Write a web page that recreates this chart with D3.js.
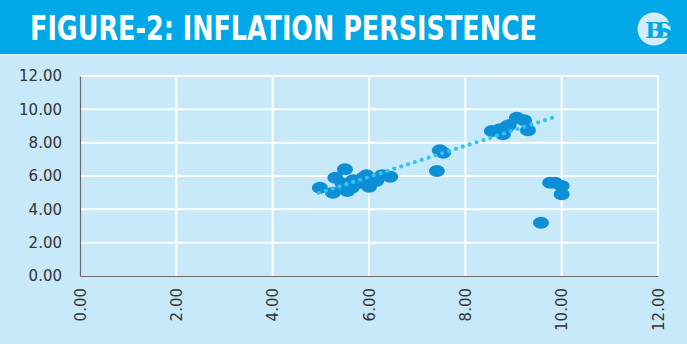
<!DOCTYPE html>
<html>
<head>
<meta charset="utf-8">
<script src="https://cdn.jsdelivr.net/npm/d3@7/dist/d3.min.js"></script>
<style>
  html, body { margin: 0; padding: 0; background: #c7e9fa; }
  svg { display: block; }
</style>
</head>
<body>
<svg id="chart" width="687" height="344"></svg>
<script>
// Scatter of inflation (x) vs. lagged inflation (y), in percent
const xValues = [4.98, 5.25, 5.3, 5.5, 5.67, 5.64, 5.88, 5.95, 6.0, 6.08, 6.27, 6.44,
                 5.45, 5.75, 6.15, 5.55,
                 7.47, 7.54, 7.41,
                 8.55, 8.72, 8.78, 8.86, 8.9, 9.07, 9.22, 9.3,
                 9.76, 9.86, 10.0, 10.0, 9.57];
const yValues = [5.3, 5.0, 5.9, 6.4, 5.75, 5.3, 5.9, 6.05, 5.35, 5.75, 6.05, 5.95,
                 5.55, 5.55, 5.7, 5.1,
                 7.55, 7.4, 6.3,
                 8.7, 8.8, 8.5, 8.95, 9.05, 9.5, 9.35, 8.75,
                 5.6, 5.6, 5.4, 4.9, 3.2];

// Linear trendline end points
const trendX = [4.96, 9.86];
const trendY = [4.98, 9.54];

const xTicks = [0, 2, 4, 6, 8, 10, 12];
const yTicks = [0, 2, 4, 6, 8, 10, 12];
const titleText = "FIGURE-2: INFLATION PERSISTENCE";

const svg = d3.select("#chart");
const W = 687, H = 344;

svg.append("rect").attr("width", W).attr("height", H).attr("fill", "#c7e9fa");

// Header band
svg.append("rect").attr("x", 0).attr("y", 0).attr("width", W).attr("height", 54)
  .attr("fill", "#00a8e7");
svg.append("rect").attr("x", 0).attr("y", 54).attr("width", W).attr("height", 1.5)
  .attr("fill", "#dcf2fc");
svg.append("text")
  .attr("x", 30).attr("y", 40)
  .attr("fill", "#ffffff")
  .attr("font-family", "'DejaVu Sans Condensed', 'DejaVu Sans', sans-serif")
  .attr("font-stretch", "condensed")
  .attr("font-weight", "bold")
  .attr("font-size", 34)
  .attr("textLength", 507)
  .attr("lengthAdjust", "spacingAndGlyphs")
  .text(titleText);

// Logo badge
const logo = svg.append("g").attr("transform", "translate(654,29)");
logo.append("circle").attr("r", 16.5).attr("fill", "#d2eefb");
logo.append("text").attr("x", 0).attr("y", 8.5)
  .attr("text-anchor", "middle")
  .attr("font-family", "'DejaVu Serif', serif").attr("font-weight", "bold")
  .attr("font-size", 23).attr("letter-spacing", -9)
  .attr("fill", "#00a8e7").text("BS");

// Plot area
const x = d3.scaleLinear().domain([0, 12]).range([80, 658]);
const y = d3.scaleLinear().domain([0, 12]).range([276, 76]);

const grid = svg.append("g");
grid.selectAll("line.v").data(xTicks.filter(d => d > 0)).join("line")
  .attr("x1", d => x(d)).attr("x2", d => x(d))
  .attr("y1", y(0)).attr("y2", y(12))
  .attr("stroke", "#ffffff").attr("stroke-width", 2);
grid.selectAll("line.h").data(yTicks.filter(d => d > 0)).join("line")
  .attr("x1", x(0)).attr("x2", x(12))
  .attr("y1", d => y(d)).attr("y2", d => y(d))
  .attr("stroke", "#ffffff").attr("stroke-width", 2);

const fmt = d3.format(".2f");

// Y axis
const yAxis = svg.append("g").attr("transform", `translate(${x(0)},0)`)
  .call(d3.axisLeft(y).tickValues(yTicks).tickFormat(fmt).tickSize(0).tickPadding(18));
yAxis.select(".domain").attr("stroke", "#6b6b6b").attr("stroke-width", 1.2);
yAxis.selectAll("text")
  .attr("font-family", "'DejaVu Sans', Verdana, sans-serif")
  .attr("font-size", 15).attr("fill", "#333333");

// X axis
const xAxis = svg.append("g").attr("transform", `translate(0,${y(0)})`)
  .call(d3.axisBottom(x).tickValues(xTicks).tickFormat(fmt).tickSize(0));
xAxis.select(".domain").attr("stroke", "#6b6b6b").attr("stroke-width", 1.2);
xAxis.selectAll("text")
  .attr("font-family", "'DejaVu Sans', Verdana, sans-serif")
  .attr("font-size", 15).attr("fill", "#333333")
  .attr("transform", "rotate(-90)")
  .attr("text-anchor", "end")
  .attr("x", -12).attr("y", 0).attr("dy", "0.35em");

// Data points
const pts = d3.range(xValues.length).map(i => ({ x: xValues[i], y: yValues[i] }));
svg.append("g").selectAll("ellipse").data(pts).join("ellipse")
  .attr("cx", d => x(d.x)).attr("cy", d => y(d.y))
  .attr("rx", 8).attr("ry", 6)
  .attr("fill", "#0c8fd6");

// Dotted trendline
const trend = trendX.map((v, i) => [v, trendY[i]]);
svg.append("path")
  .attr("d", d3.line().x(d => x(d[0])).y(d => y(d[1]))(trend))
  .attr("fill", "none")
  .attr("stroke", "#34c3f1")
  .attr("stroke-width", 4.2)
  .attr("stroke-linecap", "round")
  .attr("stroke-dasharray", "0 7.2");
</script>
</body>
</html>
